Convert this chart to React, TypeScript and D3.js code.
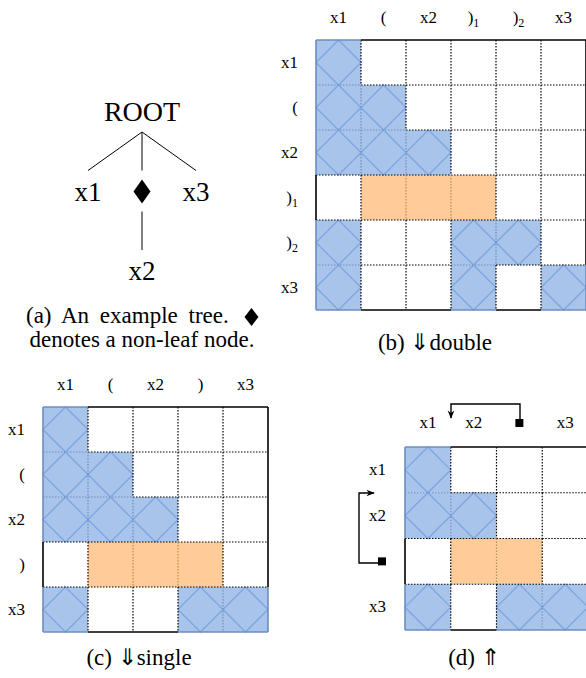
import React from 'react';
import * as d3 from 'd3';

const FONT = 'Liberation Serif, Times New Roman, serif';

// tree (a)
const treeData = { name: 'ROOT', children: [{ name: 'x1' }, { name: '♦', children: [{ name: 'x2' }] }, { name: 'x3' }] };
const captionA = ['(a) An example tree.', 'denotes a non-leaf node.'];

// matrix (b)  B = blue, O = orange, . = empty
const labelsB = ['x1', '(', 'x2', ')1', ')2', 'x3'];
const cellsB = ['B.....', 'BB....', 'BBB...', '.OOO..', 'B..BB.', 'B..B.B'];

// matrix (c)
const labelsC = ['x1', '(', 'x2', ')', 'x3'];
const cellsC = ['B....', 'BB...', 'BBB..', '.OOO.', 'B..BB'];

// matrix (d)
const colLabelsD = ['x1', 'x2', '■', 'x3'];
const rowLabelsD = ['x1', 'x2', '■', 'x3'];
const cellsD = ['B...', 'BB..', '.OO.', 'B.BB'];

const FILL: Record<string, string> = { B: '#a9c4eb', O: '#ffcc99', '.': '#ffffff' };
const EDGE: Record<string, string> = { B: '#6c8ebf', O: '#c08a48', '.': '#000000' };

function Label({ text, x, y, anchor }: { text: string; x: number; y: number; anchor: string }) {
  if (text === '■') {
    const w = 8;
    const cx = anchor === 'end' ? x - w / 2 : x;
    return <rect x={cx - w / 2} y={y - 9} width={w} height={w} fill="#000" />;
  }
  if (text.length === 2 && text[0] === ')') {
    return (
      <text x={x} y={y} textAnchor={anchor} fontSize={17} fontFamily={FONT}>
        <tspan>)</tspan>
        <tspan dy={4} fontSize={12}>{text[1]}</tspan>
      </text>
    );
  }
  return <text x={x} y={y} textAnchor={anchor} fontSize={17} fontFamily={FONT}>{text}</text>;
}

function Matrix({ cells, colLabels, rowLabels, left, top, size, colY, rowX }: any) {
  const n = cells.length;
  const m = cells[0].length;
  const x = d3.scaleBand<number>().domain(d3.range(m)).range([left, left + m * size]);
  const y = d3.scaleBand<number>().domain(d3.range(n)).range([top, top + n * size]);
  const bw = x.bandwidth();
  const bh = y.bandwidth();
  const type = (i: number, j: number) => cells[i][j];

  const rects: any[] = [];
  const diamonds: any[] = [];
  const edges: any[] = [];
  for (let i = 0; i < n; i++) {
    for (let j = 0; j < m; j++) {
      const t = type(i, j);
      const x0 = x(j)!, y0 = y(i)!;
      rects.push(<rect key={`r${i}-${j}`} x={x0} y={y0} width={bw} height={bh} fill={FILL[t]} />);
      if (t === 'B') {
        const cx = x0 + bw / 2, cy = y0 + bh / 2;
        diamonds.push(
          <path key={`d${i}-${j}`}
            d={`M${cx},${y0}L${x0 + bw},${cy}L${cx},${y0 + bh}L${x0},${cy}Z`}
            fill="none" stroke="#7ea6e0" strokeWidth={1.3} />
        );
      }
      // internal edges, dotted
      if (j < m - 1) {
        const u = type(i, j + 1);
        const c = u === t && t !== '.' ? EDGE[t] : '#000';
        edges.push(<line key={`v${i}-${j}`} x1={x0 + bw} x2={x0 + bw} y1={y0} y2={y0 + bh}
          stroke={c} strokeWidth={1.2} strokeDasharray="1.5,1.5" />);
      }
      if (i < n - 1) {
        const u = type(i + 1, j);
        const c = u === t && t !== '.' ? EDGE[t] : '#000';
        edges.push(<line key={`h${i}-${j}`} x1={x0} x2={x0 + bw} y1={y0 + bh} y2={y0 + bh}
          stroke={c} strokeWidth={1.2} strokeDasharray="1.5,1.5" />);
      }
      // outer edges, solid
      const oc = EDGE[t];
      if (i === 0) edges.push(<line key={`ot${j}`} x1={x0} x2={x0 + bw} y1={y0} y2={y0} stroke={oc} strokeWidth={1.6} />);
      if (i === n - 1) edges.push(<line key={`ob${j}`} x1={x0} x2={x0 + bw} y1={y0 + bh} y2={y0 + bh} stroke={oc} strokeWidth={1.6} />);
      if (j === 0) edges.push(<line key={`ol${i}`} x1={x0} x2={x0} y1={y0} y2={y0 + bh} stroke={oc} strokeWidth={1.6} />);
      if (j === m - 1) edges.push(<line key={`or${i}`} x1={x0 + bw} x2={x0 + bw} y1={y0} y2={y0 + bh} stroke={oc} strokeWidth={1.6} />);
    }
  }

  return (
    <g>
      {rects}
      {diamonds}
      {edges}
      {colLabels.map((l: string, j: number) => (
        <Label key={`c${j}`} text={l} x={x(j)! + bw / 2} y={colY} anchor="middle" />
      ))}
      {rowLabels.map((l: string, i: number) => (
        <Label key={`w${i}`} text={l} x={rowX} y={y(i)! + bh / 2 + 5} anchor="end" />
      ))}
    </g>
  );
}

function Tree() {
  const root = d3.hierarchy<any>(treeData);
  d3.tree<any>().nodeSize([54, 1]).separation(() => 1)(root);
  const depthY = d3.scaleLinear().domain([0, 2]).range([121, 280]);
  const left = 142;
  const nodes = root.descendants();
  const dpath = (cx: number, cy: number, w: number, h: number) =>
    `M${cx},${cy - h}L${cx + w},${cy}L${cx},${cy + h}L${cx - w},${cy}Z`;
  return (
    <g>
      {root.links().map((l: any, k: number) => (
        <line key={k}
          x1={left + l.source.x} y1={depthY(l.source.depth) + 11}
          x2={left + l.target.x} y2={depthY(l.target.depth) - 30}
          stroke="#000" strokeWidth={1} />
      ))}
      {nodes.map((d: any, k: number) =>
        d.data.name === '♦' ? (
          <path key={k} d={dpath(left + d.x, depthY(d.depth) - 9, 8.5, 12)} fill="#000" />
        ) : (
          <text key={k} x={left + d.x} y={depthY(d.depth)} textAnchor="middle"
            fontSize={d.depth === 0 ? 28 : 27} fontFamily={FONT}>
            {d.data.name}
          </text>
        )
      )}
    </g>
  );
}

export default function App() {
  const dia = (cx: number, cy: number, w: number, h: number) =>
    `M${cx},${cy - h}L${cx + w},${cy}L${cx},${cy + h}L${cx - w},${cy}Z`;
  return (
    <div style={{ position: 'absolute', left: 0, top: 0 }}>
      <svg width={586} height={678} style={{ display: 'block' }}>
        <rect width={586} height={678} fill="#fff" />
        <Tree />
        <text x={26} y={323} fontSize={23} fontFamily={FONT} wordSpacing={5}>{captionA[0]}</text>
        <path d={dia(251.5, 317, 7, 9)} fill="#000" />
        <text x={142} y={347} fontSize={23} textAnchor="middle" fontFamily={FONT}>{captionA[1]}</text>

        <Matrix cells={cellsB} colLabels={labelsB} rowLabels={labelsB}
          left={316} top={40} size={45} colY={23} rowX={298} />
        <text x={435} y={350} fontSize={23} textAnchor="middle" fontFamily={FONT}>(b) ⇓double</text>

        <Matrix cells={cellsC} colLabels={labelsC} rowLabels={labelsC}
          left={43} top={407} size={45} colY={390} rowX={25} />
        <text x={139} y={665} fontSize={23} textAnchor="middle" fontFamily={FONT}>(c) ⇓single</text>

        <Matrix cells={cellsD} colLabels={colLabelsD} rowLabels={rowLabelsD}
          left={405} top={447} size={45.75} colY={428} rowX={386} />
        <text x={474} y={665} fontSize={23} textAnchor="middle" fontFamily={FONT}>(d) ⇑</text>

        <defs>
          <marker id="ah" viewBox="0 0 10 10" refX={9} refY={5} markerWidth={6} markerHeight={6} orient="auto">
            <path d="M0,1L10,5L0,9L3,5Z" fill="#000" />
          </marker>
        </defs>
        <path d="M520,420V404H451V418" fill="none" stroke="#000" strokeWidth={1.4} markerEnd="url(#ah)" />
        <path d="M378,563H359V493H374" fill="none" stroke="#000" strokeWidth={1.4} markerEnd="url(#ah)" />
      </svg>
    </div>
  );
}
